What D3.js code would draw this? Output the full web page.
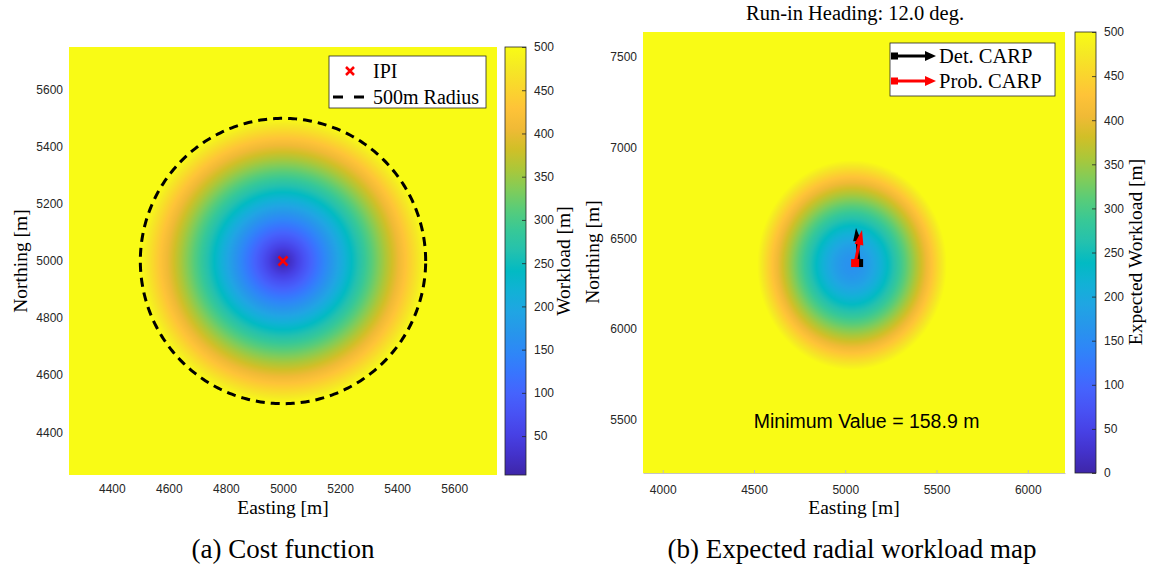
<!DOCTYPE html>
<html>
<head>
<meta charset="utf-8">
<script src="https://d3js.org/d3.v7.min.js"></script>
<style>
  body { margin: 0; background: #fff; }
  svg { display: block; }
  .tick text { font-family: "Liberation Sans", Arial, sans-serif; font-size: 12px; fill: #262626; }
  .serif { font-family: "Liberation Serif", "Times New Roman", serif; fill: #000; }
</style>
</head>
<body>
<div id="chart"></div>
<script>
// ---- tick labels ----
var xTicksA = [4400, 4600, 4800, 5000, 5200, 5400, 5600];
var yTicksA = [4400, 4600, 4800, 5000, 5200, 5400, 5600];
var cTicksA = [50, 100, 150, 200, 250, 300, 350, 400, 450, 500];
var xTicksB = [4000, 4500, 5000, 5500, 6000];
var yTicksB = [5500, 6000, 6500, 7000, 7500];
var cTicksB = [0, 50, 100, 150, 200, 250, 300, 350, 400, 450, 500];

// ---- (a) cost function: distance from IPI ----
var ipi = [5000, 5000];
var radius = 500;
var costRange = [5, 500];

// ---- (b) expected radial workload ----
var workCenter = [5037, 6353];
var workRadii = [520, 578];
var workRange = [0, 500];
var workMin = 158.9;
var heading = 12.0;
var detCarp = [[5076, 6364], [5059, 6557]];
var probCarp = [[5054, 6364], [5092, 6546]];
var minLabelPos = [5117, 5455];

// parula colormap (every 3rd entry of the 64 colour table)
var parula = ["#3e26a8", "#4332cb", "#4741e5", "#4852f4", "#4563fd", "#3875fe", "#2e87f7",
  "#2796eb", "#20a5e3", "#12b1d6", "#02bac3", "#24c1ae", "#37c897", "#57cc7a", "#81cc59",
  "#abc739", "#d1bf27", "#f0ba36", "#fec338", "#fad62d", "#f5e924", "#f9fb15"];

var W = 1152, H = 569;
var svg = d3.select("#chart").append("svg").attr("width", W).attr("height", H);

var defs = svg.append("defs");
var grad = defs.append("linearGradient").attr("id", "parula")
  .attr("x1", 0).attr("y1", 1).attr("x2", 0).attr("y2", 0);
parula.forEach(function (c, i) {
  grad.append("stop").attr("offset", i / (parula.length - 1)).attr("stop-color", c);
});

function colorScale(range) {
  var n = parula.length;
  return d3.scaleLinear()
    .domain(parula.map(function (c, i) { return range[0] + i / (n - 1) * (range[1] - range[0]); }))
    .range(parula).clamp(true);
}

// paint a field into a canvas and put it in the svg as an image
function heatmap(g, x, y, color, field) {
  var x0 = x.range()[0], x1 = x.range()[1], y0 = y.range()[1], y1 = y.range()[0];
  var w = Math.round(x1 - x0), h = Math.round(y1 - y0);
  var d = color.domain(), lo = d[0], hi = d[d.length - 1];
  var lut = d3.range(1024).map(function (i) { return d3.rgb(color(lo + i / 1023 * (hi - lo))); });
  var cv = document.createElement("canvas");
  cv.width = w; cv.height = h;
  var ctx = cv.getContext("2d");
  var img = ctx.createImageData(w, h);
  for (var j = 0; j < h; j++) {
    var yy = y.invert(y0 + j + 0.5);
    for (var i = 0; i < w; i++) {
      var v = field(x.invert(x0 + i + 0.5), yy);
      var k = Math.max(0, Math.min(1023, Math.round((v - lo) / (hi - lo) * 1023)));
      var c = lut[k], p = (j * w + i) * 4;
      img.data[p] = c.r; img.data[p + 1] = c.g; img.data[p + 2] = c.b; img.data[p + 3] = 255;
    }
  }
  ctx.putImageData(img, 0, 0);
  g.append("image").attr("x", x0).attr("y", y0).attr("width", w).attr("height", h)
    .attr("preserveAspectRatio", "none").attr("href", cv.toDataURL());
}

function axes(g, x, y, xt, yt, bottomLine) {
  var y1 = y.range()[0], x0 = x.range()[0];
  var ax = g.append("g").attr("transform", "translate(0," + y1 + ")")
    .call(d3.axisBottom(x).tickValues(xt).tickFormat(d3.format("d"))
      .tickSizeInner(bottomLine ? -3 : 0).tickSizeOuter(0).tickPadding(bottomLine ? 12 : 9));
  ax.selectAll(".tick line").attr("stroke", "#bdbdbd");
  ax.select(".domain").attr("stroke", bottomLine ? "#c4c4c4" : "none");
  var ay = g.append("g").attr("transform", "translate(" + x0 + ",0)")
    .call(d3.axisLeft(y).tickValues(yt).tickFormat(d3.format("d")).tickSize(0).tickPadding(6));
  ay.select(".domain").remove();
}

function colorbar(g, cx, cw, c, ticks) {
  g.append("rect").attr("x", cx).attr("y", c.range()[1]).attr("width", cw)
    .attr("height", c.range()[0] - c.range()[1]).attr("fill", "url(#parula)")
    .attr("stroke", "#262626").attr("stroke-width", 0.8);
  var a = g.append("g").attr("transform", "translate(" + (cx + cw) + ",0)")
    .call(d3.axisRight(c).tickValues(ticks).tickFormat(d3.format("d"))
      .tickSizeInner(-4).tickSizeOuter(0).tickPadding(8));
  a.select(".domain").remove();
  a.selectAll(".tick line").attr("stroke", "#262626").attr("stroke-width", 0.8);
}

// ================= (a) =================
var gA = svg.append("g");
var xA = d3.scaleLinear().domain([4250, 5750]).range([69, 497]);
var yA = d3.scaleLinear().domain([4250, 5750]).range([475, 47]);
var colA = colorScale(costRange);
heatmap(gA, xA, yA, colA, function (e, n) {
  return Math.hypot(e - ipi[0], n - ipi[1]);
});
axes(gA, xA, yA, xTicksA, yTicksA, false);

// dashed 500 m circle
var circ = d3.range(0, 361, 1).map(function (a) {
  var t = a * Math.PI / 180;
  return [ipi[0] + radius * Math.cos(t), ipi[1] + radius * Math.sin(t)];
});
gA.append("path").datum(circ)
  .attr("d", d3.line().x(function (d) { return xA(d[0]); }).y(function (d) { return yA(d[1]); }))
  .attr("fill", "none").attr("stroke", "#000").attr("stroke-width", 3).attr("stroke-dasharray", "9,6");

function xMark(g, cx, cy, s) {
  g.append("path").attr("d", "M" + (cx - s) + "," + (cy - s) + "L" + (cx + s) + "," + (cy + s) +
    "M" + (cx - s) + "," + (cy + s) + "L" + (cx + s) + "," + (cy - s))
    .attr("stroke", "#ff0000").attr("stroke-width", 2.5).attr("fill", "none");
}
xMark(gA, xA(ipi[0]), yA(ipi[1]), 4.5);

var cA = d3.scaleLinear().domain(costRange).range([475, 47]);
colorbar(gA, 505, 21, cA, cTicksA);

gA.append("text").attr("class", "serif").attr("x", 283).attr("y", 514)
  .attr("text-anchor", "middle").attr("font-size", 19.5).text("Easting [m]");
gA.append("text").attr("class", "serif").attr("transform", "translate(27,261) rotate(-90)")
  .attr("text-anchor", "middle").attr("font-size", 19.5).text("Northing [m]");
gA.append("text").attr("class", "serif").attr("transform", "translate(570,261) rotate(-90)")
  .attr("text-anchor", "middle").attr("font-size", 19.5).text("Workload [m]");

// legend (a)
var lA = gA.append("g");
lA.append("rect").attr("x", 329).attr("y", 56).attr("width", 157).attr("height", 52)
  .attr("fill", "#fff").attr("stroke", "#262626").attr("stroke-width", 0.8);
xMark(lA, 350, 71, 4);
lA.append("text").attr("class", "serif").attr("x", 373).attr("y", 78).attr("font-size", 20).text("IPI");
lA.append("line").attr("x1", 333).attr("x2", 364).attr("y1", 97).attr("y2", 97)
  .attr("stroke", "#000").attr("stroke-width", 3).attr("stroke-dasharray", "10,11");
lA.append("text").attr("class", "serif").attr("x", 373).attr("y", 104).attr("font-size", 20).text("500m Radius");

gA.append("text").attr("class", "serif").attr("x", 283).attr("y", 558)
  .attr("text-anchor", "middle").attr("font-size", 27).text("(a) Cost function");

// ================= (b) =================
var gB = svg.append("g");
var xB = d3.scaleLinear().domain([3892, 6204]).range([643, 1065]);
var yB = d3.scaleLinear().domain([5208, 7636]).range([473, 32]);
var colB = colorScale(workRange);
var kB = Math.sqrt(workRange[1] * workRange[1] - workMin * workMin);
heatmap(gB, xB, yB, colB, function (e, n) {
  var u = (e - workCenter[0]) / workRadii[0] * kB, v = (n - workCenter[1]) / workRadii[1] * kB;
  return Math.min(workRange[1], Math.sqrt(workMin * workMin + u * u + v * v));
});
axes(gB, xB, yB, xTicksB, yTicksB, true);

function arrow(g, p0, p1, color, head, hw, sq) {
  var dx = p1[0] - p0[0], dy = p1[1] - p0[1], L = Math.hypot(dx, dy);
  var ux = dx / L, uy = dy / L;
  var bx = p1[0] - ux * head, by = p1[1] - uy * head;
  g.append("rect").attr("x", p0[0] - sq / 2).attr("y", p0[1] - sq / 2)
    .attr("width", sq).attr("height", sq).attr("fill", color);
  g.append("line").attr("x1", p0[0]).attr("y1", p0[1]).attr("x2", bx + ux).attr("y2", by + uy)
    .attr("stroke", color).attr("stroke-width", 3);
  g.append("path").attr("d", "M" + p1[0] + "," + p1[1] + "L" + (bx - uy * hw) + "," + (by + ux * hw) +
    "L" + (bx + uy * hw) + "," + (by - ux * hw) + "Z").attr("fill", color);
}
function px(p) { return [xB(p[0]), yB(p[1])]; }
arrow(gB, px(detCarp[0]), px(detCarp[1]), "#000", 13, 4, 8);
arrow(gB, px(probCarp[0]), px(probCarp[1]), "#ff0000", 15, 4.5, 8);

gB.append("text").attr("x", xB(minLabelPos[0])).attr("y", yB(minLabelPos[1]))
  .attr("text-anchor", "middle").attr("font-family", "'Liberation Sans', Arial, sans-serif")
  .attr("font-size", 19.5).attr("fill", "#000").text("Minimum Value = " + workMin.toFixed(1) + " m");

var cB = d3.scaleLinear().domain(workRange).range([473, 32]);
colorbar(gB, 1075, 21, cB, cTicksB);

gB.append("text").attr("class", "serif").attr("x", 854).attr("y", 514)
  .attr("text-anchor", "middle").attr("font-size", 19.5).text("Easting [m]");
gB.append("text").attr("class", "serif").attr("transform", "translate(599,252) rotate(-90)")
  .attr("text-anchor", "middle").attr("font-size", 19.5).text("Northing [m]");
gB.append("text").attr("class", "serif").attr("transform", "translate(1142,252) rotate(-90)")
  .attr("text-anchor", "middle").attr("font-size", 19.5).text("Expected Workload [m]");
gB.append("text").attr("class", "serif").attr("x", 855).attr("y", 20)
  .attr("text-anchor", "middle").attr("font-size", 20.5).text("Run-in Heading: " + heading.toFixed(1) + " deg.");

// legend (b)
var lB = gB.append("g");
lB.append("rect").attr("x", 890).attr("y", 43).attr("width", 165).attr("height", 53)
  .attr("fill", "#fff").attr("stroke", "#262626").attr("stroke-width", 0.8);
arrow(lB, [894.5, 56], [936, 56], "#000", 11, 5, 7);
lB.append("text").attr("class", "serif").attr("x", 939).attr("y", 63).attr("font-size", 20.5).text("Det. CARP");
arrow(lB, [894.5, 81], [936, 81], "#ff0000", 11, 5, 7);
lB.append("text").attr("class", "serif").attr("x", 939).attr("y", 88).attr("font-size", 20.5).text("Prob. CARP");

gB.append("text").attr("class", "serif").attr("x", 852).attr("y", 558)
  .attr("text-anchor", "middle").attr("font-size", 27).text("(b) Expected radial workload map");
</script>
</body>
</html>
